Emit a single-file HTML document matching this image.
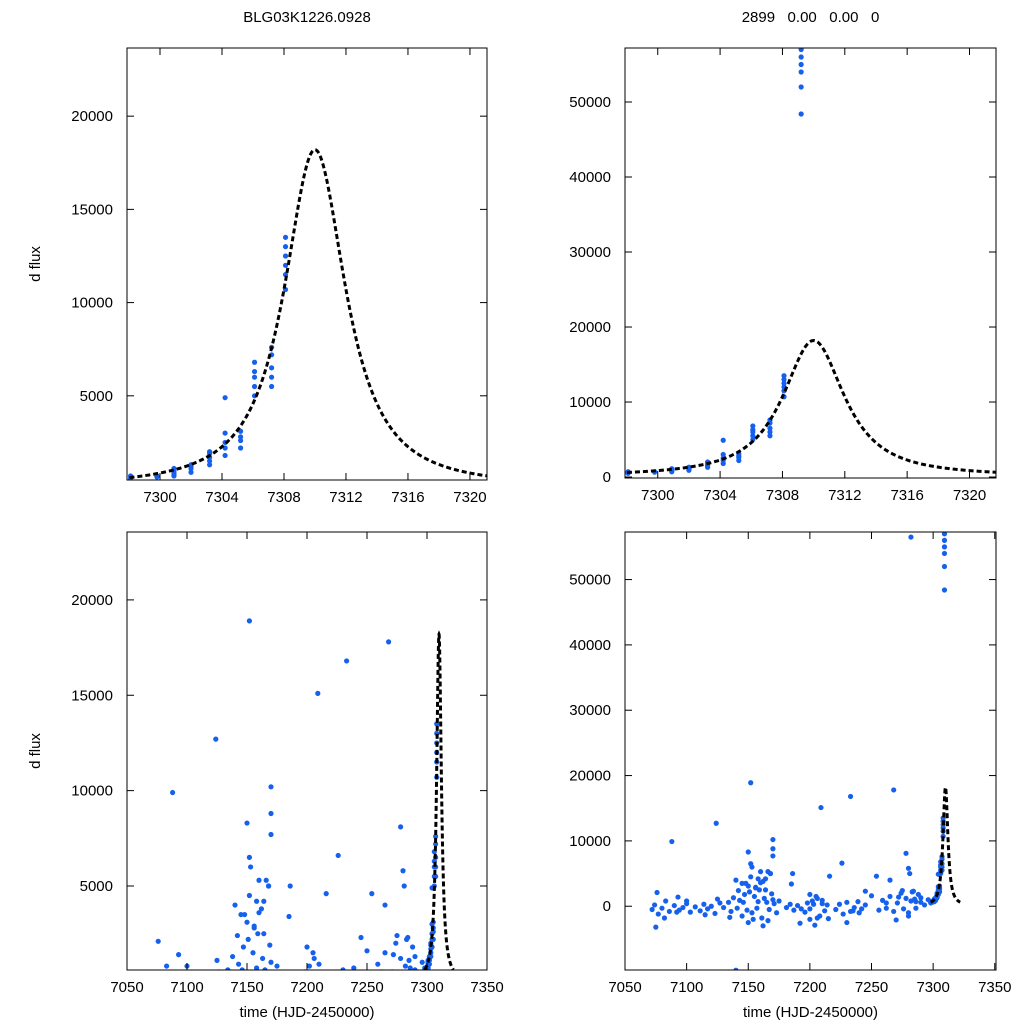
<!DOCTYPE html>
<html><head><meta charset="utf-8"><style>
html,body{margin:0;background:#fff;overflow:hidden;width:1024px;height:1024px;}
svg{display:block;font-family:"Liberation Sans",sans-serif;}
</style></head><body>
<svg id="c" width="1024" height="1024"></svg>
<script>
const eventT=[7298.1,7298.1,7298.1,7299.8,7299.8,7300.9,7300.9,7300.9,7300.9,7300.9,7302,7302,7302,7302,7303.2,7303.2,7303.2,7303.2,7303.2,7304.2,7304.2,7304.2,7304.2,7304.2,7305.2,7305.2,7305.2,7305.2,7306.1,7306.1,7306.1,7306.1,7306.1,7307.2,7307.2,7307.2,7307.2,7307.2,7308.1,7308.1,7308.1,7308.1,7308.1,7308.1,7309.2,7309.2,7309.2,7309.2,7309.2,7309.2];
const eventF=[600,700,500,650,700,800,900,1000,1100,700,900,1100,1200,1300,1300,1500,1700,1900,2000,1800,2200,2500,3000,4900,2200,2600,2800,3100,5000,5500,6000,6300,6800,5500,6000,6500,7200,7600,10700,11500,12000,12500,13000,13500,48400,52000,54000,55000,56000,57000];
const outT=[7076,7088,7124,7152,7209,7233,7268,7282,7100,7093,7150,7152,7153,7160,7166,7170,7170,7170,7168,7140,7145,7186,7216,7226,7254,7265,7278,7280,7281,7185,7140,7158,7162,7156,7164,7150,7200,7205,7245,7275,7283,7290];
const outF=[2100,9900,12700,18900,15100,16800,17800,56500,800,1400,8300,6500,6000,5300,5300,10200,8800,7700,5000,4000,3500,5000,4600,6600,4600,4000,8100,5800,5000,3400,-9800,4200,3800,2900,2500,3100,1800,1500,2300,2400,2200,1300];
const baseT=[7072,7074,7077,7080,7083,7086,7090,7094,7097,7100,7103,7107,7111,7114,7117,7120,7123,7127,7130,7134,7136,7138,7141,7143,7145,7147,7149,7151,7153,7155,7157,7159,7161,7163,7165,7167,7169,7171,7173,7175,7181,7184,7187,7190,7193,7196,7198,7200,7202,7204,7206,7208,7210,7212,7214,7221,7224,7227,7230,7233,7236,7239,7242,7245,7256,7259,7262,7265,7268,7271,7274,7276,7278,7280,7282,7284,7286,7288,7290,7293,7296,7148,7152,7156,7160,7164,7168,7146,7154,7162,7170,7200,7206,7210,7230,7240,7262,7272,7280,7286,7075,7082,7092,7115,7125,7135,7142,7150,7158,7166,7192,7203,7215,7235,7250,7270,7285];
const baseF=[-500,200,-1200,-300,800,-800,100,-600,-200,400,-900,-100,-700,300,-400,0,-1100,500,-200,600,-800,1300,-300,900,-1500,1800,-600,2200,-1000,1500,-300,2500,-1800,1200,600,-500,1900,400,-1000,800,-200,300,-600,100,-400,-900,500,-2000,800,-2900,1200,-1500,400,-700,200,-500,300,-1200,600,-800,-200,700,-400,200,-600,900,-300,1500,-800,500,2000,-400,1200,-1000,800,2300,-300,1800,600,200,1000,3500,4500,2800,3600,4200,5000,600,-2000,-3000,1000,-400,-1800,900,-2500,-1000,500,1400,-1500,700,-3200,-1800,-900,-1300,1100,-1700,2400,-2500,700,-2200,-2600,300,-1900,-700,1600,-2100,1100];
const modelT0=7310, modelAmp=18100, modelW=2.6, modelPow=1.15, modelBase=100;
const NS='http://www.w3.org/2000/svg';
const svg=document.getElementById('c');
function el(tag,attrs,parent){const e=document.createElementNS(NS,tag);for(const k in attrs)e.setAttribute(k,attrs[k]);(parent||svg).appendChild(e);return e;}
const allT=eventT.concat(outT,baseT), allF=eventF.concat(outF,baseF);
const panels=[
 {name:'top-left',x0:127,x1:487,y0:48,y1:480,xmin:7297.87,xmax:7321.1,ymin:484,ymax:23656,xt:[7300,7304,7308,7312,7316,7320],yt:[5000,10000,15000,20000],ylab:true,xlab:false,title:'BLG03K1226.0928',mt0:7297,mt1:7322},
 {name:'top-right',x0:625,x1:996,y0:48,y1:478,xmin:7297.9,xmax:7321.7,ymin:-130,ymax:57200,xt:[7300,7304,7308,7312,7316,7320],yt:[0,10000,20000,30000,40000,50000],ylab:false,xlab:false,title:'2899\u00a0\u00a0\u00a00.00\u00a0\u00a0\u00a00.00\u00a0\u00a0\u00a00',mt0:7297,mt1:7322},
 {name:'bottom-left',x0:127,x1:487,y0:532,y1:970,xmin:7050,xmax:7350,ymin:595,ymax:23560,xt:[7050,7100,7150,7200,7250,7300,7350],yt:[5000,10000,15000,20000],ylab:true,xlab:true,mt0:7298,mt1:7322},
 {name:'bottom-right',x0:625,x1:996,y0:532,y1:970,xmin:7050,xmax:7351,ymin:-9760,ymax:57280,xt:[7050,7100,7150,7200,7250,7300,7350],yt:[0,10000,20000,30000,40000,50000],ylab:false,xlab:true,mt0:7298,mt1:7322}
];
panels.forEach((p,i)=>{
 const sx=t=>p.x0+(t-p.xmin)/(p.xmax-p.xmin)*(p.x1-p.x0);
 const sy=v=>p.y1-(v-p.ymin)/(p.ymax-p.ymin)*(p.y1-p.y0);
 const g=el('g',{});
 const cp=el('clipPath',{id:'cp'+i},g);el('rect',{x:p.x0,y:p.y0,width:p.x1-p.x0,height:p.y1-p.y0},cp);
 const pts=el('g',{'clip-path':'url(#cp'+i+')'},g);
 
 for(let k=0;k<allT.length;k++){const c=el('circle',{cx:sx(allT[k]),cy:sy(allF[k]),r:2.6,fill:'#1660ee'},pts);
  }
 let d='';for(let t=p.mt0;t<=p.mt1;t+=0.05){const v=modelBase+modelAmp/Math.pow(1+((t-modelT0)/modelW)**2,modelPow);d+=(d?'L':'M')+sx(t).toFixed(2)+','+sy(v).toFixed(2);}
 const m=el('path',{d:d,fill:'none',stroke:'#000','stroke-width':3,'stroke-dasharray':'5,3','clip-path':'url(#cp'+i+')'},g);
 
 const fr=el('rect',{x:p.x0,y:p.y0,width:p.x1-p.x0,height:p.y1-p.y0,fill:'none',stroke:'#000','stroke-width':1},g);
 
 p.xt.forEach(t=>{const x=sx(t);el('line',{x1:x,x2:x,y1:p.y1,y2:p.y1-7,stroke:'#000'},g);el('line',{x1:x,x2:x,y1:p.y0,y2:p.y0+7,stroke:'#000'},g);
  const tx=el('text',{x:x,y:p.y1+22,'text-anchor':'middle','font-size':15},g);tx.textContent=t;
  });
 p.yt.forEach(v=>{const y=sy(v);el('line',{x1:p.x0,x2:p.x0+7,y1:y,y2:y,stroke:'#000'},g);el('line',{x1:p.x1,x2:p.x1-7,y1:y,y2:y,stroke:'#000'},g);
  const tx=el('text',{x:p.x0-14,y:y+5,'text-anchor':'end','font-size':15},g);tx.textContent=v;
  });
 if(p.title){const tt=el('text',{x:(p.x0+p.x1)/2,y:22,'text-anchor':'middle','font-size':15},g);tt.textContent=p.title;
  }
 if(p.ylab){const yl=el('text',{x:0,y:0,'text-anchor':'middle','font-size':15,transform:'translate(40,'+((p.y0+p.y1)/2)+') rotate(-90)'},g);yl.textContent='d flux';
  }
 if(p.xlab){const xl=el('text',{x:(p.x0+p.x1)/2,y:1017,'text-anchor':'middle','font-size':15},g);xl.textContent='time (HJD-2450000)';
  }
});
</script>
</body></html>
